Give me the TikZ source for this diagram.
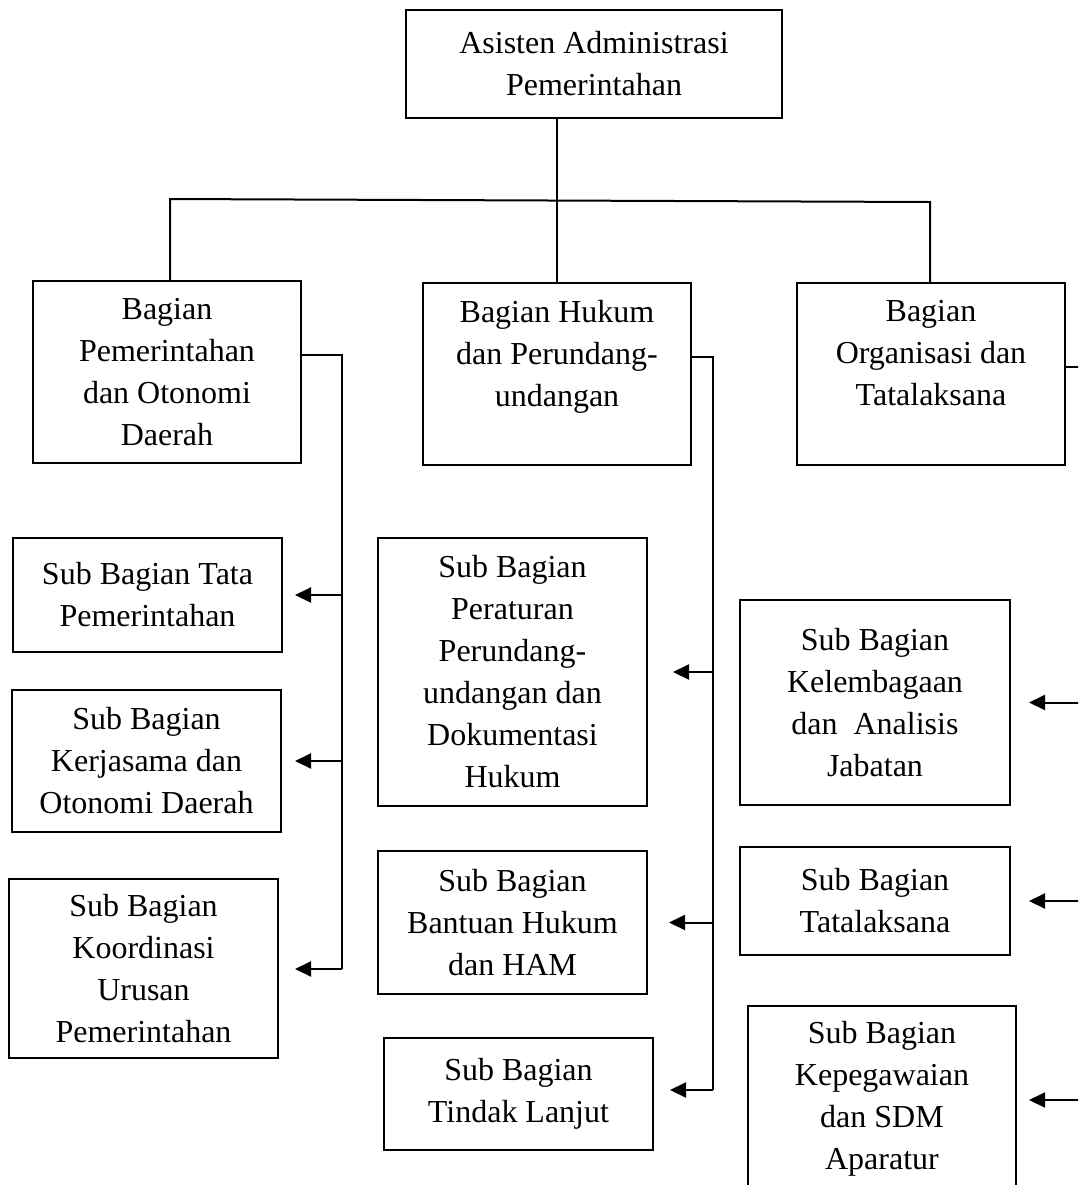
\documentclass[tikz,border=0pt]{standalone}
\usepackage{fontspec}
\setmainfont{Liberation Serif}
\usetikzlibrary{arrows.meta}

\begin{document}
\begin{tikzpicture}[x=0.5pt, y=-0.5pt,
    every node/.style={font=\fontsize{16}{21}\selectfont},
    unit/.style={draw=black, line width=1pt, rectangle,
                inner sep=0pt, align=center, fill=white},
    link/.style={line width=1pt},
    arrow/.style={-{Triangle[length=8pt,width=7.5pt]}, line width=1pt}
]
  \clip (0,0) rectangle (1078,1185);

  % --- Head ---
  \node[unit, minimum width=188pt, minimum height=54pt] (asisten) at (594,64)
    {Asisten Administrasi\\Pemerintahan};

  % --- Bagian ---
  \node[unit, minimum width=134pt, minimum height=91pt] (pem) at (167,372)
    {Bagian\\Pemerintahan\\dan Otonomi\\Daerah};
  \node[unit, minimum width=134pt, minimum height=91pt] (hukum) at (557,374)
    {Bagian Hukum\\dan Perundang-\\undangan\\\mbox{}};
  \node[unit, minimum width=134pt, minimum height=91pt] (org) at (931,374)
    {Bagian\\Organisasi dan\\Tatalaksana\\\mbox{}};

  % --- Sub Bagian under Pemerintahan ---
  \node[unit, minimum width=134.5pt, minimum height=57pt] (tata) at (147.5,595)
    {Sub Bagian Tata\\Pemerintahan};
  \node[unit, minimum width=134.5pt, minimum height=71pt] (kerja) at (146.5,761)
    {Sub Bagian\\Kerjasama dan\\Otonomi Daerah};
  \node[unit, minimum width=134.5pt, minimum height=89.5pt] (koord) at (143.5,968.5)
    {Sub Bagian\\Koordinasi\\Urusan\\Pemerintahan};

  % --- Sub Bagian under Hukum ---
  \node[unit, minimum width=134.5pt, minimum height=134pt] (atur) at (512.5,672)
    {Sub Bagian\\Peraturan\\Perundang-\\undangan dan\\Dokumentasi\\Hukum};
  \node[unit, minimum width=134.5pt, minimum height=71.5pt] (bantu) at (512.5,922.5)
    {Sub Bagian\\Bantuan Hukum\\dan HAM};
  \node[unit, minimum width=134.5pt, minimum height=56pt] (tindak) at (518.5,1094)
    {Sub Bagian\\Tindak Lanjut};

  % --- Sub Bagian under Organisasi ---
  \node[unit, minimum width=135pt, minimum height=102.5pt] (lembaga) at (875,702.5)
    {Sub Bagian\\Kelembagaan\\dan\ \ Analisis\\Jabatan};
  \node[unit, minimum width=135pt, minimum height=54pt] (tatalak) at (875,901)
    {Sub Bagian\\Tatalaksana};
  \node[unit, minimum width=134pt, minimum height=93pt] (pegawai) at (882,1099)
    {Sub Bagian\\Kepegawaian\\dan SDM\\Aparatur};

  % --- Top bus ---
  \coordinate (busL) at (170,199);
  \coordinate (busR) at (930,202);
  \draw[link] (hukum.north) -- (hukum.north |- asisten.south);
  \draw[link] (busL |- pem.north) -- (busL) -- (busR) -- (busR |- org.north);

  % --- Side buses ---
  \coordinate (pemBus) at (342,355);
  \coordinate (pemEnd) at (342,969);
  \coordinate (hukBus) at (713,357);
  \coordinate (hukEnd) at (713,1090);
  \coordinate (orgBus) at (1083,367);
  \coordinate (orgEnd) at (1083,1100);
  \draw[link] (pem.east |- pemBus) -- (pemBus) -- (pemEnd);
  \draw[link] (hukum.east |- hukBus) -- (hukBus) -- (hukEnd);
  \draw[link] (org.east |- orgBus) -- (orgBus) -- (orgEnd);

  % --- Arrows to Sub Bagian ---
  \draw[arrow, shorten >=6pt] (pemBus |- tata.east) -- (tata.east);
  \draw[arrow, shorten >=6.5pt] (pemBus |- kerja.east) -- (kerja.east);
  \draw[arrow, shorten >=8pt] (pemEnd) -- (koord.east |- pemEnd);

  \draw[arrow, shorten >=12.5pt] (hukBus |- atur.east) -- (atur.east);
  \draw[arrow, shorten >=10.5pt] (hukBus |- bantu.east) -- (bantu.east);
  \draw[arrow, shorten >=8pt] (hukEnd) -- (tindak.east |- hukEnd);

  \draw[arrow, shorten >=9pt] (orgBus |- lembaga.east) -- (lembaga.east);
  \draw[arrow, shorten >=9pt] (orgBus |- tatalak.east) -- (tatalak.east);
  \draw[arrow, shorten >=6pt] (orgEnd) -- (pegawai.east |- orgEnd);
\end{tikzpicture}
\end{document}
